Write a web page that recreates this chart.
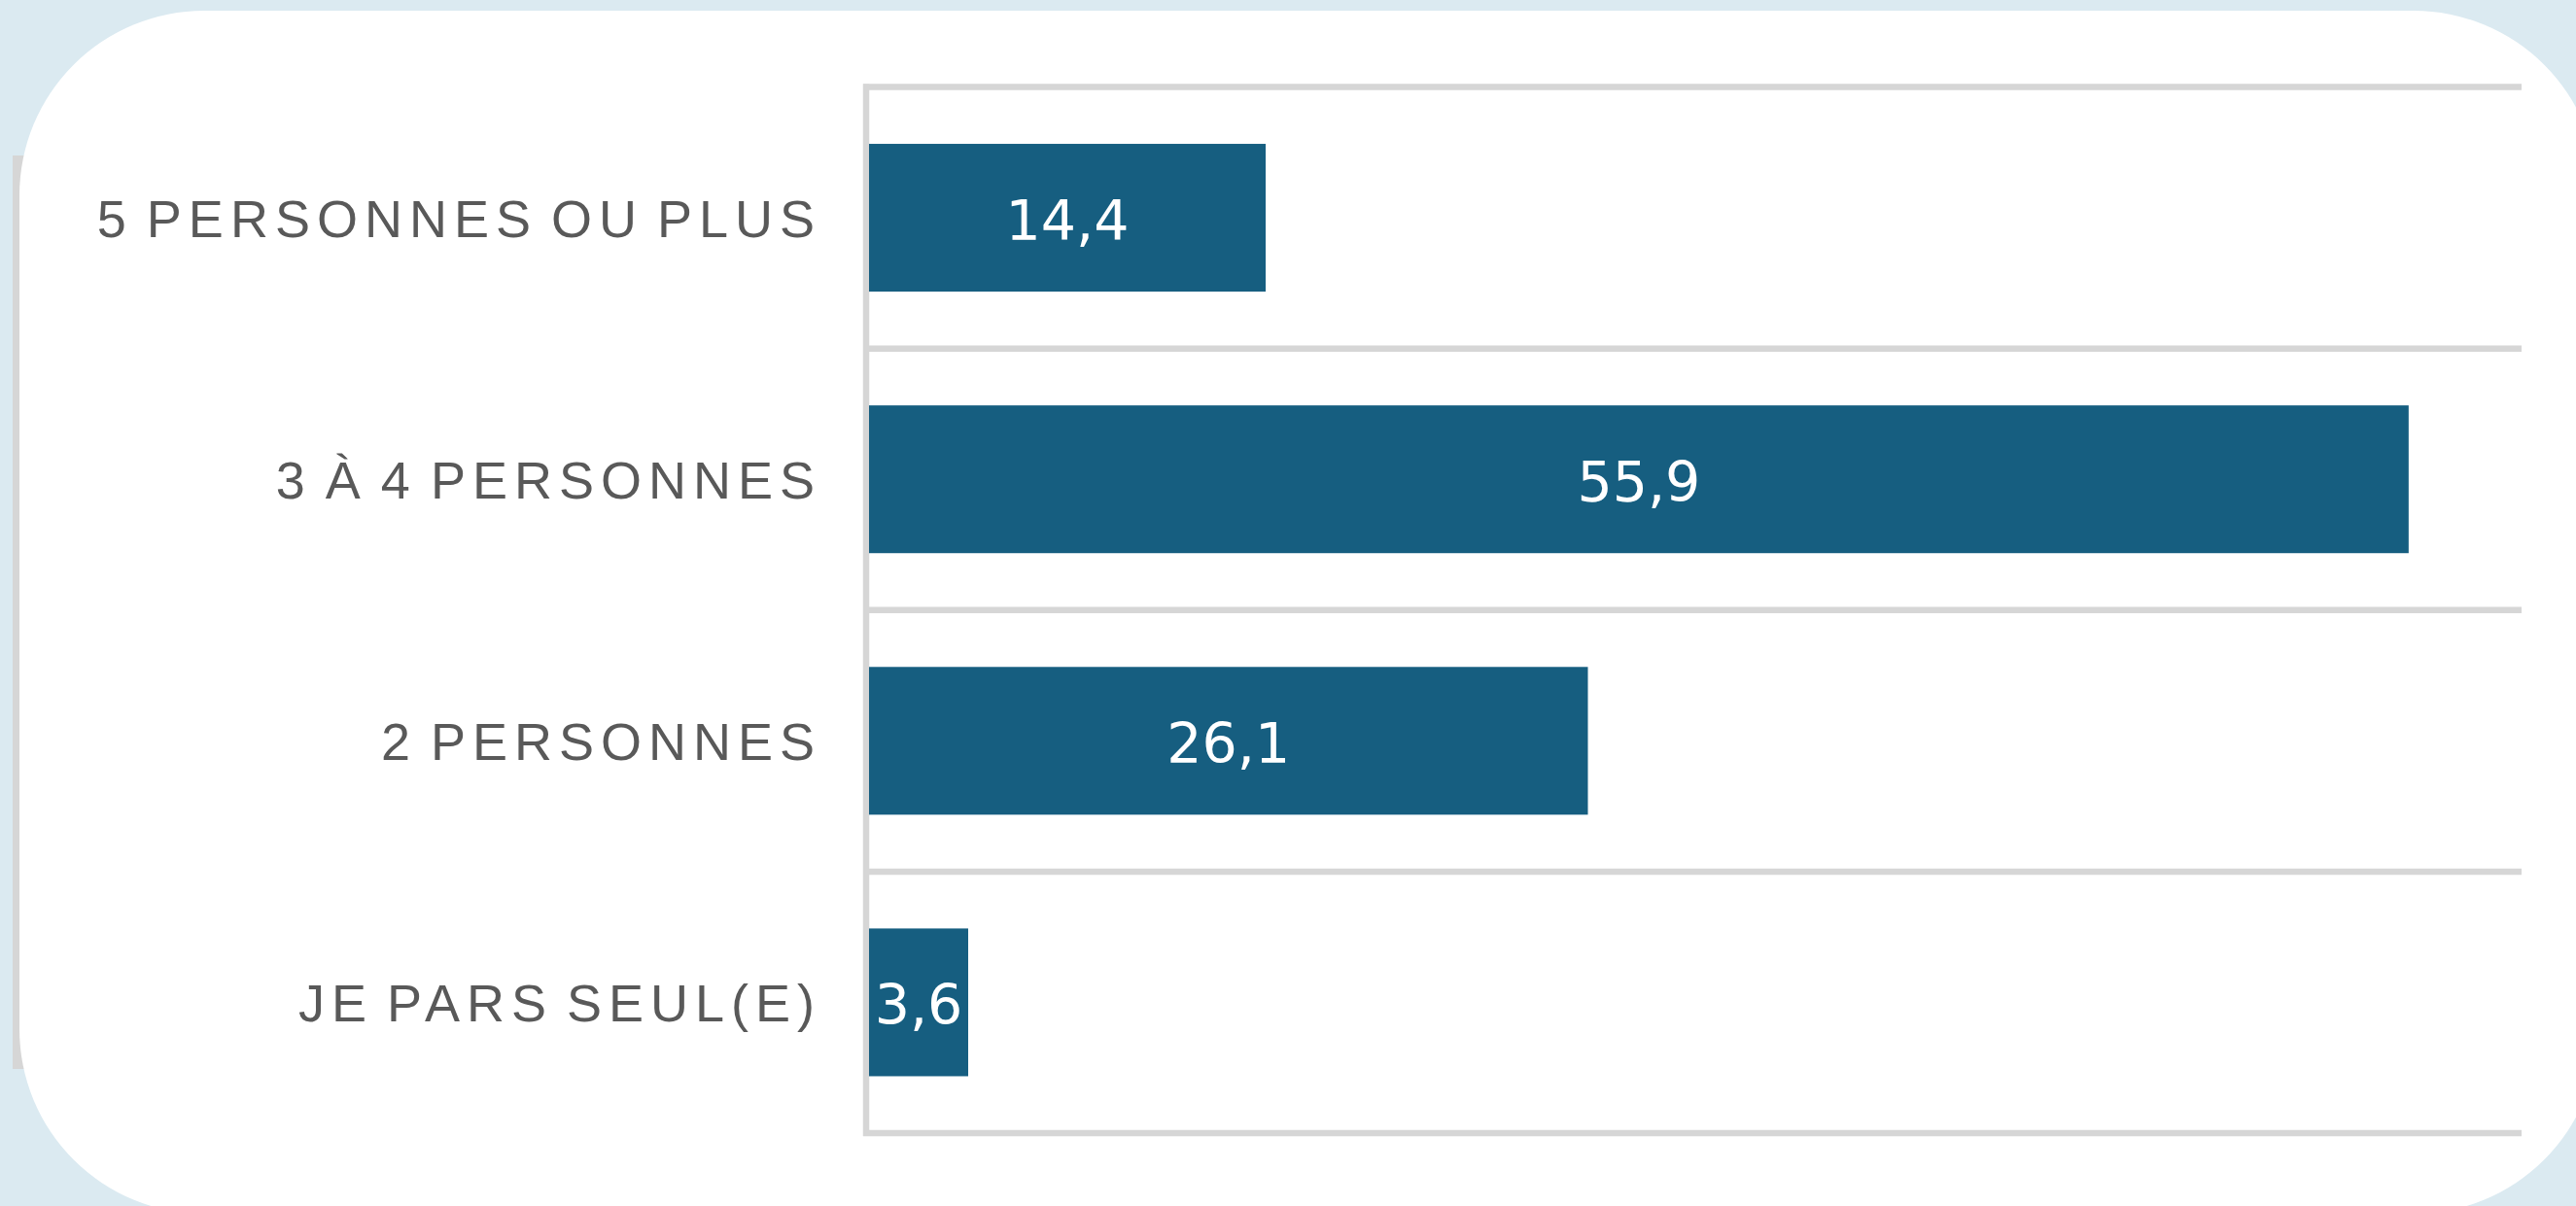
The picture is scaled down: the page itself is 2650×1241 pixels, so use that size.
<!DOCTYPE html>
<html>
    <head>
        <title>Taille du groupe</title>
        <meta charset="utf-8" />
        <script src="https://d3js.org/d3.v7.min.js"></script>
        <style>
            body {
                margin: 0;
                background: #dbeaf1;
            }
            svg {
                display: block;
            }
        </style>
    </head>
    <body>
        <svg></svg>
        <script>
            // données (en %)
            const categories = [
                '5 PERSONNES OU PLUS',
                '3 À 4 PERSONNES',
                '2 PERSONNES',
                'JE PARS SEUL(E)',
            ]
            const values = [14.4, 55.9, 26.1, 3.6]
            const xMax = 60

            const width = 2650
            const height = 1241
            const barColor = '#165e80'
            const gridColor = '#d6d6d6'

            function dataViz() {
                const svg = d3
                    .select('svg')
                    .attr('width', width)
                    .attr('height', height)

                // fond + carte blanche arrondie
                svg.append('rect')
                    .attr('width', width)
                    .attr('height', height)
                    .style('fill', '#dbeaf1')
                svg.append('rect')
                    .attr('x', 13)
                    .attr('y', 160)
                    .attr('width', 40)
                    .attr('height', 940)
                    .style('fill', gridColor)
                svg.append('rect')
                    .attr('x', 20)
                    .attr('y', 11)
                    .attr('width', 2653)
                    .attr('height', 1238)
                    .attr('rx', 190)
                    .style('fill', '#ffffff')

                const pad = 0.435
                const xScale = d3
                    .scaleLinear()
                    .domain([0, xMax])
                    .range([894, 2594])
                const yScale = d3
                    .scaleBand()
                    .domain(categories)
                    .range([89.5, 1166])
                    .paddingInner(pad)
                    .paddingOuter(pad / 2)

                const step = yScale.step()
                const gap = (step * pad) / 2

                // lignes de séparation horizontales
                const gridYs = categories
                    .map((c) => yScale(c) - gap)
                    .concat([yScale(categories[categories.length - 1]) + yScale.bandwidth() + gap])
                svg.selectAll('line.grid')
                    .data(gridYs)
                    .enter()
                    .append('line')
                    .attr('class', 'grid')
                    .attr('x1', xScale(0) - 6)
                    .attr('x2', xScale(xMax))
                    .attr('y1', (d) => d)
                    .attr('y2', (d) => d)
                    .style('stroke', gridColor)
                    .style('stroke-width', 6.5)

                // axe vertical
                svg.append('line')
                    .attr('x1', xScale(0) - 3)
                    .attr('x2', xScale(0) - 3)
                    .attr('y1', gridYs[0] - 3)
                    .attr('y2', gridYs[gridYs.length - 1] + 3)
                    .style('stroke', gridColor)
                    .style('stroke-width', 6.5)

                const rows = categories.map((c, i) => ({ cat: c, value: values[i] }))

                svg.selectAll('rect.bar')
                    .data(rows)
                    .enter()
                    .append('rect')
                    .attr('class', 'bar')
                    .attr('x', xScale(0))
                    .attr('y', (d) => yScale(d.cat))
                    .attr('width', (d) => xScale(d.value) - xScale(0))
                    .attr('height', yScale.bandwidth())
                    .style('fill', barColor)

                // valeurs dans les barres
                svg.selectAll('text.value')
                    .data(rows)
                    .enter()
                    .append('text')
                    .attr('class', 'value')
                    .attr('x', (d) => (xScale(0) + xScale(d.value)) / 2)
                    .attr('y', (d) => yScale(d.cat) + yScale.bandwidth() / 2 + 23)
                    .attr('text-anchor', 'middle')
                    .style('font-family', '"DejaVu Sans", sans-serif')
                    .style('font-size', '57px')
                    .style('fill', '#ffffff')
                    .text((d) => d3.format('.1f')(d.value).replace('.', ','))

                // libellés des catégories
                svg.selectAll('text.cat')
                    .data(rows)
                    .enter()
                    .append('text')
                    .attr('class', 'cat')
                    .attr('x', 845)
                    .attr('y', (d) => yScale(d.cat) + yScale.bandwidth() / 2 + 20)
                    .attr('text-anchor', 'end')
                    .style('font-family', '"Liberation Sans", Arial, sans-serif')
                    .style('font-size', '54px')
                    .style('letter-spacing', '7px')
                    .style('word-spacing', '-8px')
                    .style('fill', '#595959')
                    .text((d) => d.cat)
            }

            dataViz()
        </script>
    </body>
</html>
